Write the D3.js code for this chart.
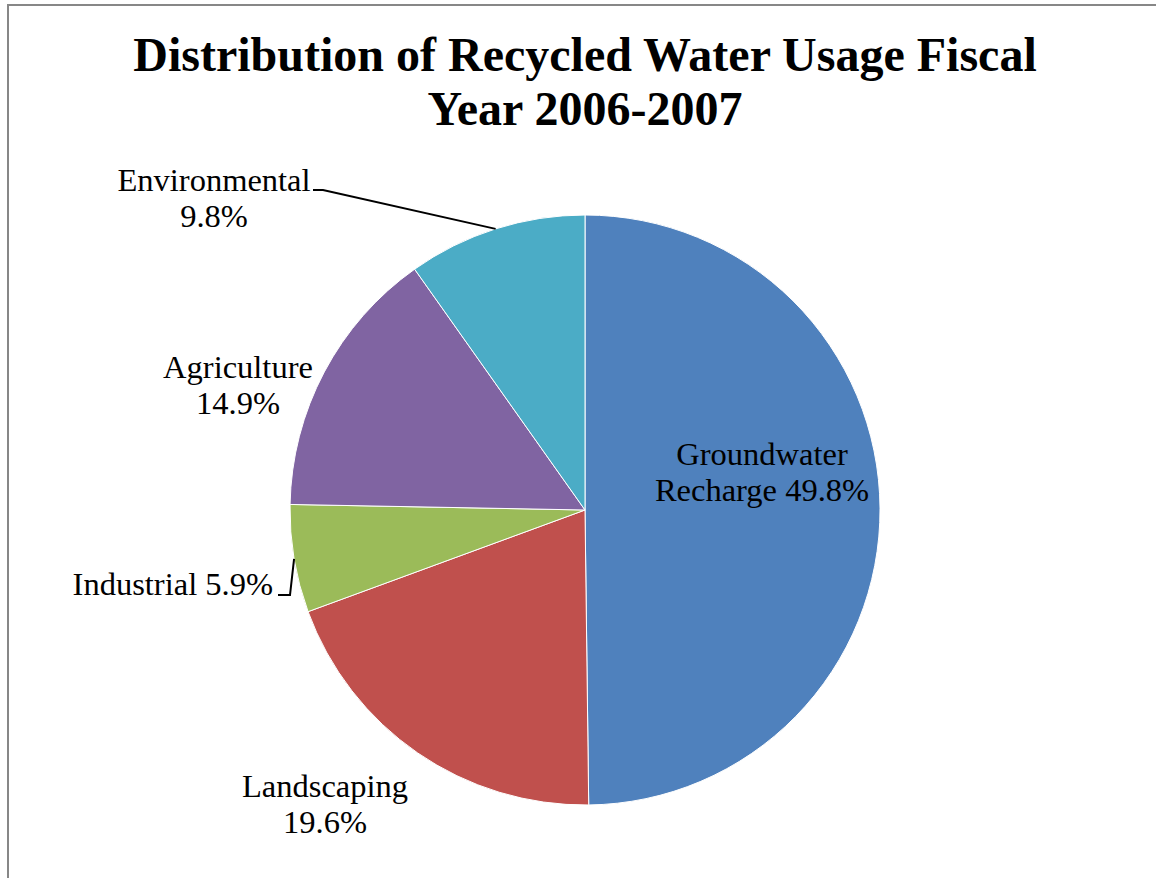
<!DOCTYPE html>
<html>
<head>
<meta charset="utf-8">
<script src="https://cdn.jsdelivr.net/npm/d3@7"></script>
<style>
  html, body { margin: 0; padding: 0; background: #fff; }
  svg { display: block; }
</style>
</head>
<body>
<svg id="chart" width="1156" height="878"></svg>
<script>
// ---- Data ----
const categories = ["Groundwater Recharge", "Landscaping", "Industrial", "Agriculture", "Environmental"];
const values = [49.8, 19.6, 5.9, 14.9, 9.8];
const labelLines = [
  ["Groundwater", "Recharge 49.8%"],
  ["Landscaping", "19.6%"],
  ["Industrial 5.9%"],
  ["Agriculture", "14.9%"],
  ["Environmental", "9.8%"]
];
const titleLines = ["Distribution of Recycled Water Usage Fiscal", "Year 2006-2007"];

// ---- Styles / layout ----
const colors = ["#4F81BD", "#C0504D", "#9BBB59", "#8064A2", "#4BACC6"];
const cx = 585, cy = 510, R = 295;
// label anchor (relative to pie centre), text-anchor, leader line kink
const labelLayout = [
  { dx: 177, dy: -45, anchor: "middle", leader: false },
  { dx: -260, dy: 287, anchor: "middle", leader: false },
  { dx: -312, dy: 85, anchor: "end", leader: true, kink: [[-307, 85], [-295, 85]] },
  { dx: -347, dy: -132, anchor: "middle", leader: false },
  { dx: -371, dy: -319, anchor: "middle", leader: true, kink: [[-272, -320], [-262, -320]] }
];
const fontSize = 32.5, lineH = 36;

const svg = d3.select("#chart");

// frame
svg.append("rect")
  .attr("x", 8).attr("y", 5)
  .attr("width", 1200).attr("height", 900)
  .attr("fill", "none").attr("stroke", "#878787").attr("stroke-width", 2);

// title
const title = svg.append("text")
  .attr("text-anchor", "middle")
  .attr("font-family", "'Liberation Serif', 'Times New Roman', serif")
  .attr("font-weight", "bold")
  .attr("font-size", 48)
  .attr("fill", "#000");
titleLines.forEach((t, i) => {
  title.append("tspan").attr("x", cx).attr("y", 71 + i * 54).text(t);
});

// pie
const pie = d3.pie().sort(null).value(d => d)(values);
const arc = d3.arc().innerRadius(0).outerRadius(R);
const g = svg.append("g").attr("transform", `translate(${cx},${cy})`);

g.selectAll("path.slice")
  .data(pie)
  .join("path")
  .attr("class", "slice")
  .attr("d", arc)
  .attr("fill", (d, i) => colors[i])
  .attr("stroke", "#fff")
  .attr("stroke-width", 1);

// leader lines
pie.forEach((d, i) => {
  const L = labelLayout[i];
  if (!L.leader) return;
  const a = (d.startAngle + d.endAngle) / 2;
  const ex = R * Math.sin(a), ey = -R * Math.cos(a);
  const pts = [...L.kink, [ex, ey]];
  g.append("path")
    .attr("d", d3.line()(pts))
    .attr("fill", "none")
    .attr("stroke", "#000")
    .attr("stroke-width", 2);
});

// labels
pie.forEach((d, i) => {
  const L = labelLayout[i];
  const t = g.append("text")
    .attr("text-anchor", L.anchor)
    .attr("font-family", "'Liberation Serif', 'Times New Roman', serif")
    .attr("font-size", fontSize)
    .attr("fill", "#000");
  labelLines[i].forEach((line, j) => {
    t.append("tspan").attr("x", L.dx).attr("y", L.dy + j * lineH).text(line);
  });
});
</script>
</body>
</html>
